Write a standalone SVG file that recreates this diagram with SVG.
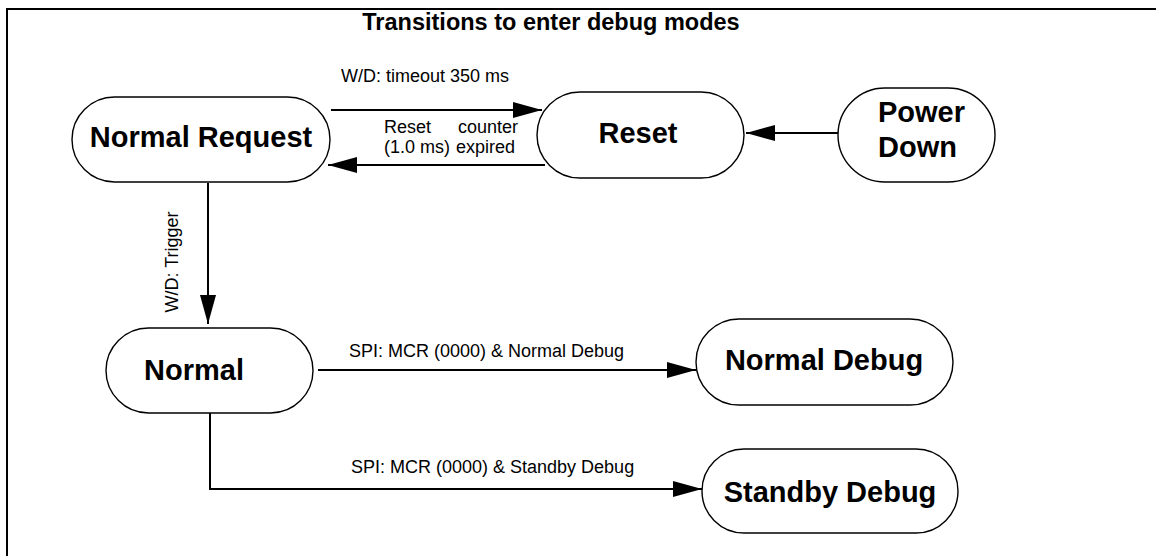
<svg xmlns="http://www.w3.org/2000/svg" width="1156" height="556" viewBox="0 0 1156 556">
<style>
.node{fill:#fff;stroke:#000;stroke-width:1.4}
.nt{font-family:"Liberation Sans",Arial,sans-serif;font-weight:bold;font-size:29px;fill:#000}
.lbl{font-family:"Liberation Sans",Arial,sans-serif;font-size:18px;fill:#000}
.conn{fill:none;stroke:#000;stroke-width:2}
</style>
<defs>
<marker id="ah" markerUnits="userSpaceOnUse" markerWidth="30" markerHeight="18" refX="29" refY="8" orient="auto">
<path d="M0,0 L29,8 L0,16 z" fill="#000"/>
</marker>
</defs>
<rect width="1156" height="556" fill="#fff"/>
<path d="M7,600 L7,9 L1170,9" fill="none" stroke="#000" stroke-width="2"/>
<text x="551" y="30" text-anchor="middle" font-family="Liberation Sans,Arial,sans-serif" font-weight="bold" font-size="23.5px">Transitions to enter debug modes</text>

<g id="normal-request"><rect class="node" x="72" y="97" width="258" height="85" rx="42.5"/><text class="nt" x="201" y="147" text-anchor="middle">Normal Request</text></g>
<g id="reset"><rect class="node" x="537" y="92" width="207" height="86" rx="43"/><text class="nt" x="638" y="143" text-anchor="middle">Reset</text></g>
<g id="power-down"><rect class="node" x="838" y="88" width="157" height="94" rx="47"/><text class="nt" x="878" y="122">Power</text><text class="nt" x="878" y="157">Down</text></g>
<g id="normal"><rect class="node" x="106" y="328" width="207" height="85" rx="42.5"/><text class="nt" x="194" y="380" text-anchor="middle">Normal</text></g>
<g id="normal-debug"><rect class="node" x="696" y="319" width="257" height="86" rx="43"/><text class="nt" x="824" y="370" text-anchor="middle">Normal Debug</text></g>
<g id="standby-debug"><rect class="node" x="702" y="449" width="256" height="84" rx="42"/><text class="nt" x="830" y="502" text-anchor="middle">Standby Debug</text></g>

<g id="connectors">
<path class="conn" d="M331,110 L542,110" marker-end="url(#ah)"/>
<text class="lbl" x="341" y="82">W/D: timeout 350 ms</text>
<path class="conn" d="M545,165 L328,165" marker-end="url(#ah)"/>
<text class="lbl" x="384" y="133">Reset</text><text class="lbl" x="458" y="133">counter</text>
<text class="lbl" x="384" y="153">(1.0 ms)</text><text class="lbl" x="456" y="153">expired</text>
<path class="conn" d="M838,133 L746,133" marker-end="url(#ah)"/>
<path class="conn" d="M208,183 L208,324" marker-end="url(#ah)"/>
<text class="lbl" transform="translate(178,262) rotate(-90)" text-anchor="middle">W/D: Trigger</text>
<path class="conn" d="M318,370 L696,370" marker-end="url(#ah)"/>
<text class="lbl" x="349" y="357">SPI: MCR (0000) &amp; Normal Debug</text>
<path class="conn" d="M210,413 L210,489 L702,489" marker-end="url(#ah)"/>
<text class="lbl" x="351" y="473">SPI: MCR (0000) &amp; Standby Debug</text>
</g>
</svg>
